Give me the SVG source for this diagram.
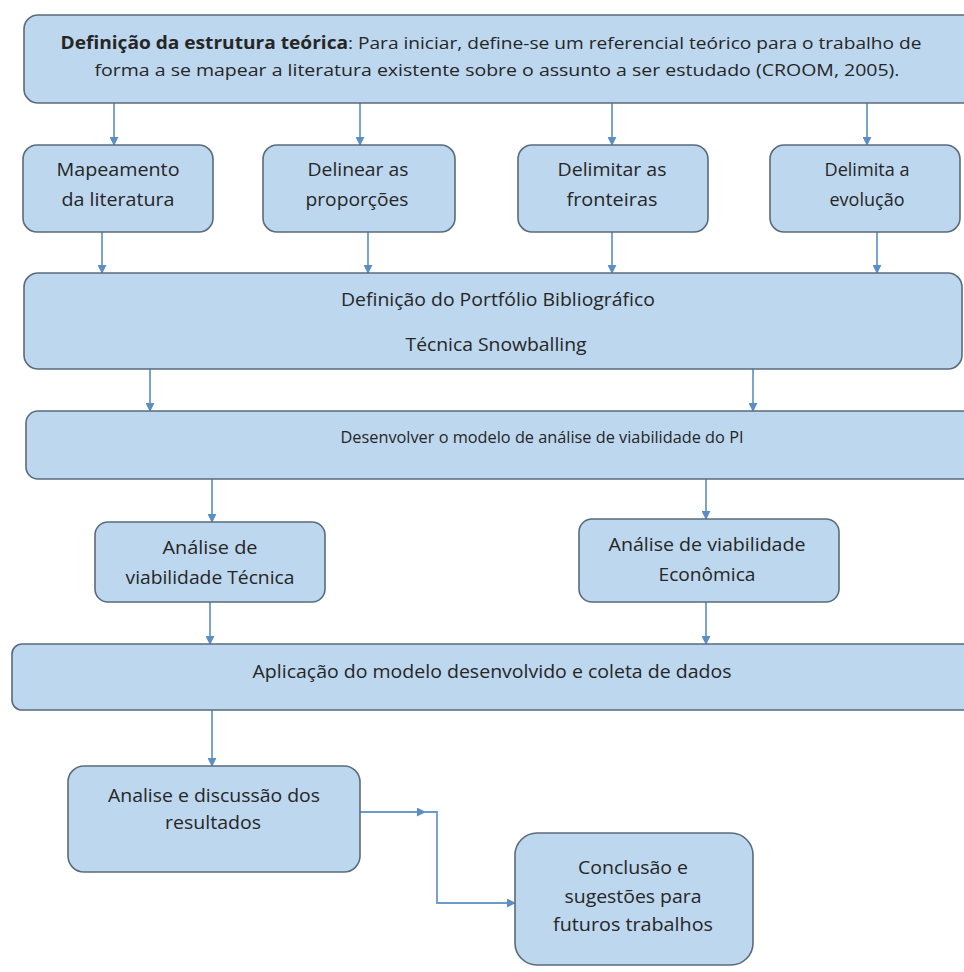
<svg xmlns="http://www.w3.org/2000/svg" width="964" height="972" viewBox="0 0 964 972">
  <style>
    .box { fill: #bdd7ee; stroke: #5a6b7c; stroke-width: 1.6; }
    .t { font-family: "Open Sans", "Noto Sans", "Liberation Sans", sans-serif; font-size: 18px; fill: #262626; text-anchor: middle; }
    .top { font-size: 17px; }
    .sm { font-size: 16.5px; }
    .b { font-weight: bold; }
    .c { fill: none; stroke: #6b9bcb; stroke-width: 1.8; }
  </style>
  <defs>
    <marker id="arrow" viewBox="0 0 10 10" refX="9" refY="5" markerWidth="9" markerHeight="9" markerUnits="userSpaceOnUse" orient="auto">
      <path d="M0,0 L10,5 L0,10 Z" fill="#5b8fc4"/>
    </marker>
  </defs>
  <rect width="964" height="972" fill="#ffffff"/>

  <g id="connectors">
    <!-- framework box to the four topics -->
    <path class="c" d="M114,103 V145" marker-end="url(#arrow)"/>
    <path class="c" d="M360,103 V145" marker-end="url(#arrow)"/>
    <path class="c" d="M612,103 V145" marker-end="url(#arrow)"/>
    <path class="c" d="M867,103 V145" marker-end="url(#arrow)"/>
    <!-- topics to portfolio -->
    <path class="c" d="M102,232 V273" marker-end="url(#arrow)"/>
    <path class="c" d="M368,232 V273" marker-end="url(#arrow)"/>
    <path class="c" d="M612,232 V273" marker-end="url(#arrow)"/>
    <path class="c" d="M877,232 V273" marker-end="url(#arrow)"/>
    <!-- portfolio to model -->
    <path class="c" d="M150,369 V411" marker-end="url(#arrow)"/>
    <path class="c" d="M753,369 V411" marker-end="url(#arrow)"/>
    <!-- model to the two analyses -->
    <path class="c" d="M212,479 V522" marker-end="url(#arrow)"/>
    <path class="c" d="M706,479 V519" marker-end="url(#arrow)"/>
    <!-- analyses to application -->
    <path class="c" d="M210,602 V644" marker-end="url(#arrow)"/>
    <path class="c" d="M706,602 V644" marker-end="url(#arrow)"/>
    <!-- application to discussion -->
    <path class="c" d="M212,710 V766" marker-end="url(#arrow)"/>
    <!-- discussion to conclusion -->
    <path class="c" d="M360,812 H425" marker-end="url(#arrow)"/>
    <path class="c" d="M424,812 H437 V903 H515" marker-end="url(#arrow)"/>
  </g>

  <g id="framework">
    <rect class="box" x="24" y="15" width="960" height="88" rx="14"/>
    <text class="t top" x="491" y="49" textLength="861" lengthAdjust="spacingAndGlyphs"><tspan class="b">Definição da estrutura teórica</tspan>: Para iniciar, define-se um referencial teórico para o trabalho de</text>
    <text class="t top" x="497" y="76" textLength="805" lengthAdjust="spacingAndGlyphs">forma a se mapear a literatura existente sobre o assunto a ser estudado (CROOM, 2005).</text>
  </g>

  <g id="mapeamento">
    <rect class="box" x="23" y="145" width="190" height="87" rx="14"/>
    <text class="t" x="118" y="176" textLength="123" lengthAdjust="spacingAndGlyphs">Mapeamento</text>
    <text class="t" x="118" y="206" textLength="113" lengthAdjust="spacingAndGlyphs">da literatura</text>
  </g>

  <g id="proporcoes">
    <rect class="box" x="263" y="145" width="192" height="87" rx="14"/>
    <text class="t" x="358" y="176" textLength="101" lengthAdjust="spacingAndGlyphs">Delinear as</text>
    <text class="t" x="357" y="206" textLength="103" lengthAdjust="spacingAndGlyphs">proporções</text>
  </g>

  <g id="fronteiras">
    <rect class="box" x="518" y="145" width="190" height="87" rx="14"/>
    <text class="t" x="612" y="176" textLength="109" lengthAdjust="spacingAndGlyphs">Delimitar as</text>
    <text class="t" x="612" y="206" textLength="91" lengthAdjust="spacingAndGlyphs">fronteiras</text>
  </g>

  <g id="evolucao">
    <rect class="box" x="770" y="145" width="190" height="87" rx="14"/>
    <text class="t" x="867" y="176" textLength="85" lengthAdjust="spacingAndGlyphs">Delimita a</text>
    <text class="t" x="867" y="206" textLength="75" lengthAdjust="spacingAndGlyphs">evolução</text>
  </g>

  <g id="portfolio">
    <rect class="box" x="24" y="273" width="938" height="96" rx="14"/>
    <text class="t" x="498" y="306" textLength="314" lengthAdjust="spacingAndGlyphs">Definição do Portfólio Bibliográfico</text>
    <text class="t" x="496" y="351" textLength="181" lengthAdjust="spacingAndGlyphs">Técnica Snowballing</text>
  </g>

  <g id="modelo">
    <rect class="box" x="26" y="411" width="960" height="68" rx="12"/>
    <text class="t sm" x="542" y="443" textLength="403" lengthAdjust="spacingAndGlyphs">Desenvolver o modelo de análise de viabilidade do PI</text>
  </g>

  <g id="tecnica">
    <rect class="box" x="95" y="522" width="230" height="80" rx="13"/>
    <text class="t" x="210" y="554" textLength="95" lengthAdjust="spacingAndGlyphs">Análise de</text>
    <text class="t" x="210" y="584" textLength="169" lengthAdjust="spacingAndGlyphs">viabilidade Técnica</text>
  </g>

  <g id="economica">
    <rect class="box" x="579" y="519" width="260" height="83" rx="13"/>
    <text class="t" x="707" y="551" textLength="197" lengthAdjust="spacingAndGlyphs">Análise de viabilidade</text>
    <text class="t" x="707" y="581" textLength="97" lengthAdjust="spacingAndGlyphs">Econômica</text>
  </g>

  <g id="aplicacao">
    <rect class="box" x="12" y="644" width="975" height="66" rx="10"/>
    <text class="t" x="492" y="678" textLength="479" lengthAdjust="spacingAndGlyphs">Aplicação do modelo desenvolvido e coleta de dados</text>
  </g>

  <g id="discussao">
    <rect class="box" x="68" y="766" width="292" height="106" rx="16"/>
    <text class="t" x="214" y="802" textLength="212" lengthAdjust="spacingAndGlyphs">Analise e discussão dos</text>
    <text class="t" x="213" y="829" textLength="96" lengthAdjust="spacingAndGlyphs">resultados</text>
  </g>

  <g id="conclusao">
    <rect class="box" x="515" y="833" width="238" height="132" rx="22"/>
    <text class="t" x="633" y="874" textLength="110" lengthAdjust="spacingAndGlyphs">Conclusão e</text>
    <text class="t" x="633" y="903" textLength="137" lengthAdjust="spacingAndGlyphs">sugestões para</text>
    <text class="t" x="633" y="931" textLength="160" lengthAdjust="spacingAndGlyphs">futuros trabalhos</text>
  </g>
</svg>
